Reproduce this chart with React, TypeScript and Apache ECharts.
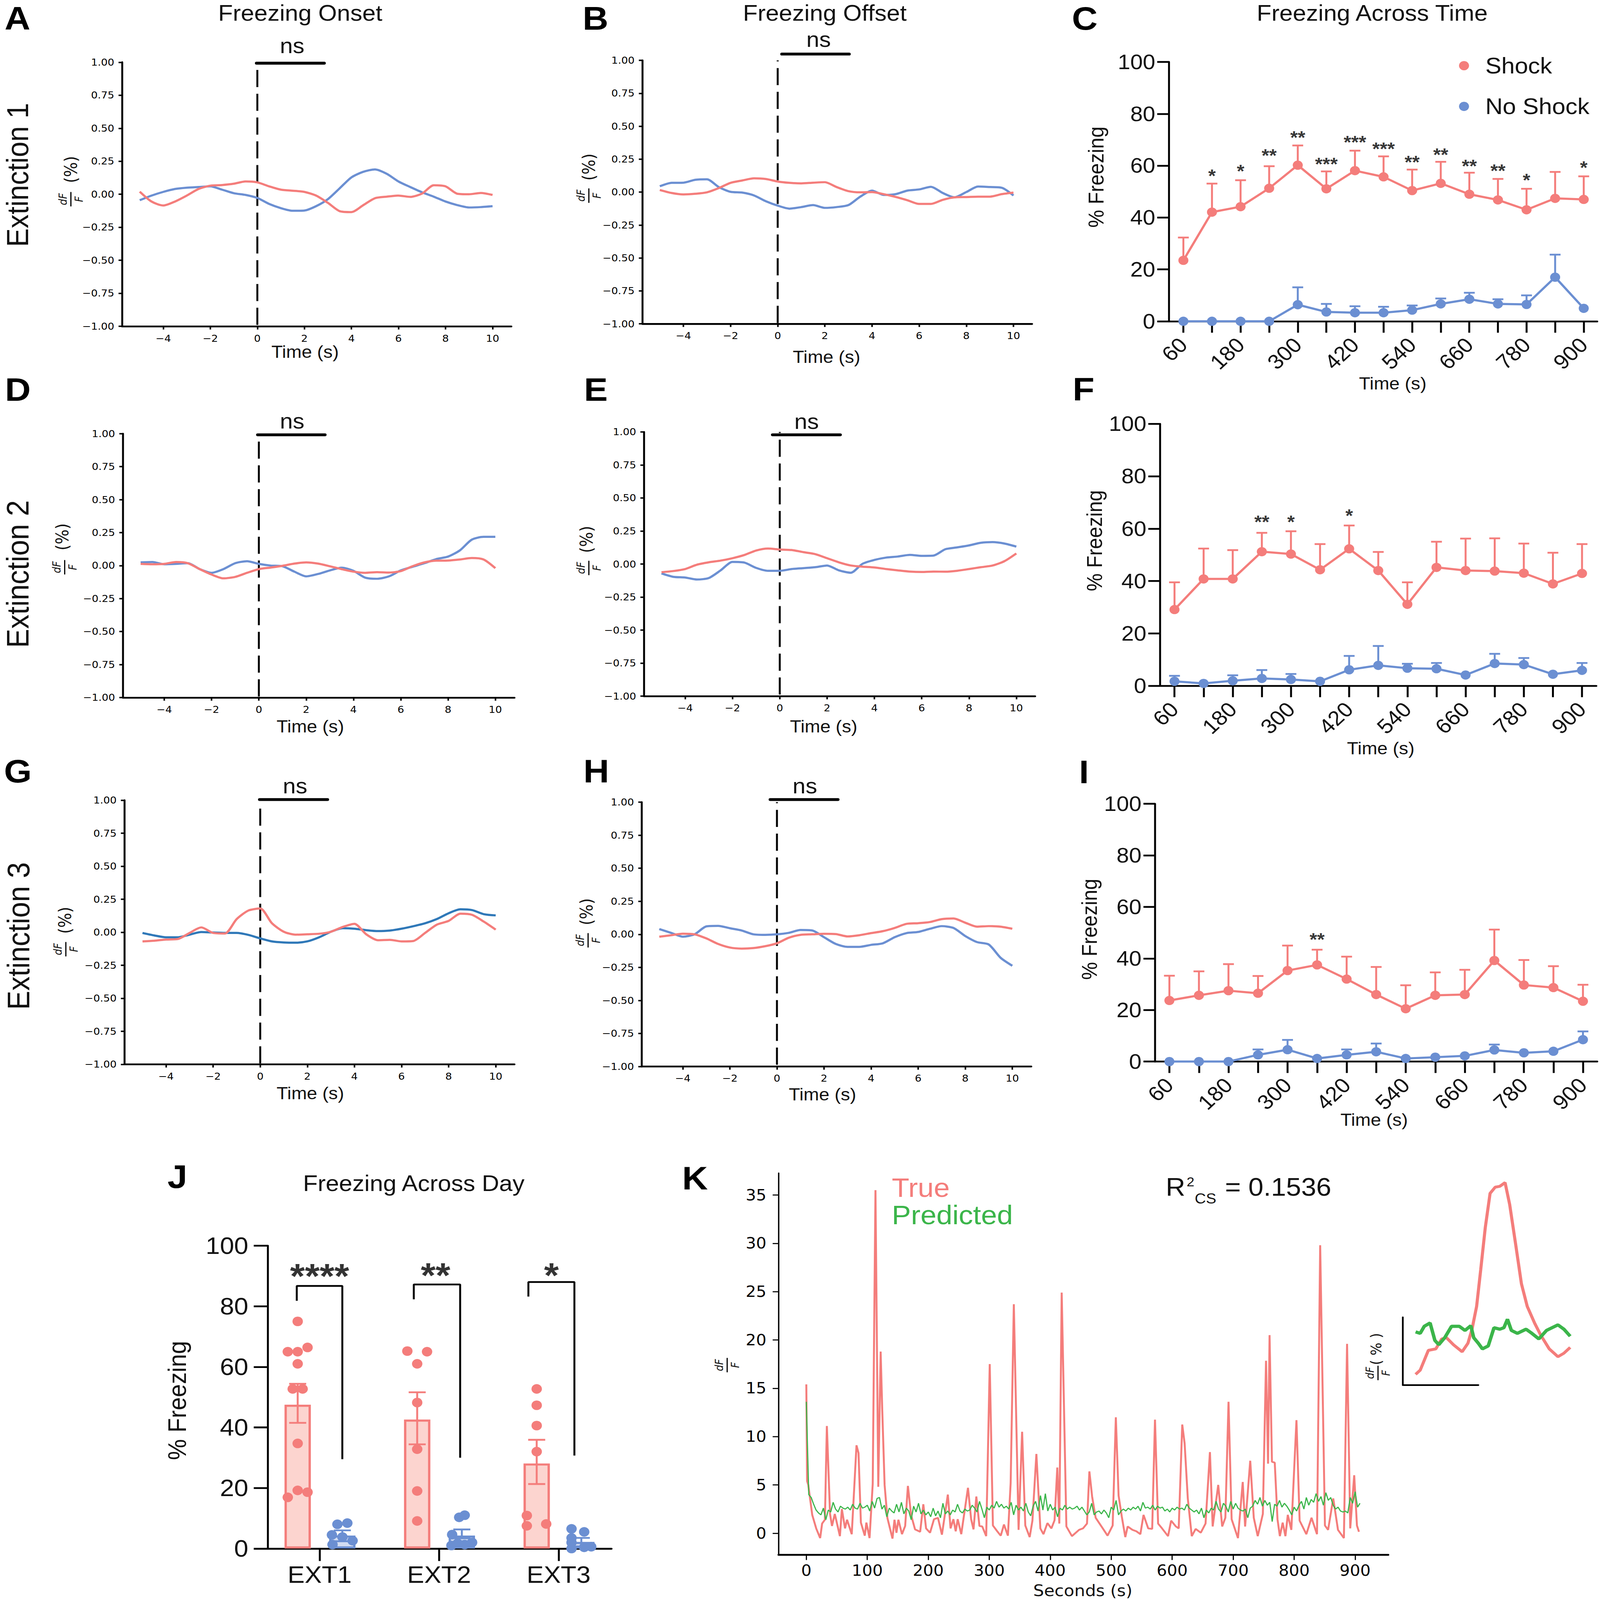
import { useEffect, useRef } from 'react';
import * as echarts from 'echarts';

const SANS = '"Liberation Sans"';
const MPL = '"DejaVu Sans"';
const RED = '#f47d7b';
const BLUE = '#6b8fd2';
const DARK_BLUE = '#2f78b8';
const GREEN = '#3bb54a';
const PAGE_W = 4130;
const PAGE_H = 4482;

const traceSeconds = [-5, -4.5, -4, -3.5, -3, -2.5, -2, -1.5, -1, -0.5, 0, 0.5, 1, 1.5, 2, 2.5, 3, 3.5, 4, 4.5, 5, 5.5, 6, 6.5, 7, 7.5, 8, 8.5, 9, 9.5, 10];
const traceTicksX = [-4, -2, 0, 2, 4, 6, 8, 10];

const onsetShock1 = [0.02, -0.055, -0.085, -0.055, -0.01, 0.04, 0.065, 0.07, 0.08, 0.097, 0.09, 0.06, 0.035, 0.027, 0.018, -0.01, -0.065, -0.128, -0.135, -0.083, -0.03, -0.018, -0.01, -0.02, 0.005, 0.068, 0.06, 0.004, 0, 0.01, -0.005];
const onsetNoShock1 = [-0.045, -0.01, 0.018, 0.04, 0.05, 0.055, 0.06, 0.035, 0.008, -0.005, -0.028, -0.073, -0.105, -0.125, -0.123, -0.09, -0.037, 0.045, 0.128, 0.17, 0.188, 0.155, 0.097, 0.055, 0.015, -0.018, -0.055, -0.082, -0.1, -0.097, -0.09];
const offsetShock1 = [0.016, -0.007, -0.018, -0.013, -0.002, 0.03, 0.07, 0.088, 0.104, 0.099, 0.08, 0.07, 0.066, 0.071, 0.075, 0.038, 0.007, -0.002, 0, -0.016, -0.037, -0.062, -0.09, -0.09, -0.059, -0.04, -0.038, -0.035, -0.035, -0.016, -0.004];
const offsetNoShock1 = [0.044, 0.07, 0.071, 0.093, 0.097, 0.038, 0.002, -0.004, -0.026, -0.07, -0.103, -0.126, -0.114, -0.099, -0.12, -0.114, -0.099, -0.035, 0.011, -0.022, -0.016, 0.011, 0.02, 0.04, -0.007, -0.04, 0, 0.042, 0.038, 0.033, -0.026];
const onsetShock2 = [0.013, 0.01, 0.013, 0.027, 0.018, -0.027, -0.068, -0.097, -0.086, -0.055, -0.027, -0.015, -0.002, 0.015, 0.024, 0.015, -0.005, -0.027, -0.046, -0.055, -0.05, -0.053, -0.042, -0.005, 0.024, 0.037, 0.038, 0.046, 0.057, 0.046, -0.02];
const onsetNoShock2 = [0.024, 0.027, 0.01, 0.013, 0.018, -0.027, -0.055, -0.027, 0.018, 0.033, 0.013, 0, -0.005, -0.046, -0.082, -0.064, -0.037, -0.016, -0.04, -0.092, -0.1, -0.082, -0.037, -0.009, 0.018, 0.049, 0.068, 0.115, 0.196, 0.218, 0.218];
const offsetShock2 = [-0.062, -0.053, -0.038, -0.005, 0.013, 0.026, 0.044, 0.068, 0.102, 0.117, 0.11, 0.106, 0.09, 0.075, 0.044, 0.013, -0.011, -0.02, -0.026, -0.038, -0.048, -0.057, -0.06, -0.057, -0.058, -0.051, -0.038, -0.024, -0.011, 0.022, 0.08];
const offsetNoShock2 = [-0.071, -0.097, -0.102, -0.117, -0.106, -0.048, 0.016, 0.011, -0.029, -0.051, -0.051, -0.038, -0.031, -0.024, -0.011, -0.048, -0.066, 0.002, 0.031, 0.049, 0.057, 0.069, 0.062, 0.064, 0.112, 0.126, 0.141, 0.161, 0.166, 0.155, 0.132];
const onsetShock3 = [-0.069, -0.064, -0.055, -0.051, -0.005, 0.037, -0.005, -0.009, 0.1, 0.165, 0.18, 0.068, 0.004, -0.018, -0.015, -0.011, 0.004, 0.04, 0.064, -0.015, -0.06, -0.057, -0.069, -0.066, -0.005, 0.058, 0.086, 0.141, 0.132, 0.08, 0.02];
const onsetNoShock3 = [-0.005, -0.024, -0.038, -0.038, -0.018, 0.002, -0.002, -0.005, -0.005, -0.02, -0.046, -0.069, -0.077, -0.079, -0.069, -0.038, 0.004, 0.031, 0.027, 0.016, 0.009, 0.013, 0.027, 0.046, 0.068, 0.1, 0.144, 0.174, 0.168, 0.137, 0.128];
const offsetShock3 = [-0.018, -0.007, 0.005, 0, -0.031, -0.073, -0.1, -0.108, -0.104, -0.09, -0.068, -0.026, -0.004, 0, 0.004, 0.002, -0.016, -0.007, 0.009, 0.024, 0.048, 0.079, 0.084, 0.093, 0.115, 0.12, 0.088, 0.058, 0.062, 0.058, 0.042];
const offsetNoShock3 = [0.04, 0.011, -0.018, 0, 0.06, 0.064, 0.046, 0.029, 0, -0.004, 0, 0.011, 0.033, 0.029, -0.022, -0.073, -0.095, -0.095, -0.08, -0.068, -0.022, 0.009, 0.018, 0.042, 0.062, 0.048, -0.013, -0.059, -0.077, -0.177, -0.238];

const binSeconds = [60, 120, 180, 240, 300, 360, 420, 480, 540, 600, 660, 720, 780, 840, 900];
const binLabels = [60, 180, 300, 420, 540, 660, 780, 900];

const shockExt1 = [23.5, 42.1, 44.2, 51.3, 60.2, 51.1, 58.1, 55.7, 50.4, 53.2, 49, 46.8, 43, 47.4, 47];
const shockErrExt1 = [32.3, 53.1, 54.4, 59.8, 67.8, 57.8, 65.8, 63.6, 58.5, 61.5, 57.3, 54.9, 51.1, 57.6, 55.9];
const noShockExt1 = [0, 0, 0, 0, 6.4, 3.6, 3.3, 3.3, 4.3, 6.7, 8.5, 6.7, 6.5, 17, 5];
const noShockErrExt1 = [null, null, null, null, 13.1, 6.7, 5.8, 5.6, 6.1, 8.8, 11, 8.5, 10, 25.7, null];
const starsExt1: [number, number, string][] = [[120, 56.5, '*'], [180, 58.3, '*'], [240, 64.4, '**'], [300, 71.3, '**'], [360, 61, '***'], [420, 69.5, '***'], [480, 66.9, '***'], [540, 61.7, '**'], [600, 64.6, '**'], [660, 60.3, '**'], [720, 58.5, '**'], [780, 54.8, '*'], [900, 59.7, '*']];

const shockExt2 = [29.1, 40.8, 40.8, 51.2, 50.3, 44.3, 52.3, 44, 31.1, 45.2, 44, 43.8, 43, 38.9, 42.9];
const shockErrExt2 = [39.5, 52.4, 51.8, 58.4, 59, 54.1, 61.2, 51.1, 39.5, 55, 56.2, 56.3, 54.3, 50.8, 54.1];
const noShockExt2 = [1.7, 0.9, 1.9, 2.8, 2.4, 1.7, 6.1, 7.8, 6.7, 6.5, 4.1, 8.5, 8.1, 4.4, 5.9];
const noShockErrExt2 = [3.8, null, 4, 6, 4.5, null, 11.4, 15.2, 8.4, 8.7, null, 12.2, 10.6, null, 8.7];
const starsExt2: [number, number, string][] = [[240, 62.9, '**'], [300, 62.9, '*'], [420, 65.3, '*']];

const shockExt3 = [23.7, 25.7, 27.5, 26.5, 35.3, 37.5, 32, 26, 20.5, 25.7, 26, 39.2, 29.7, 28.7, 23.4];
const shockErrExt3 = [33.3, 35, 37.8, 33.2, 45, 43.4, 40.7, 36.7, 29.6, 34.6, 35.6, 51.2, 39.4, 37, 29.8];
const noShockExt3 = [0, 0, 0, 2.6, 4.6, 1.2, 2.6, 3.8, 1.2, 1.7, 2.2, 4.5, 3.4, 4, 8.5];
const noShockErrExt3 = [null, null, null, 4.7, 8.4, null, 4.7, 7, null, null, null, 6.6, null, null, 11.7];
const starsExt3: [number, number, string][] = [[360, 47.8, '**']];

const dayTicks = [1, 2, 3];
const dayLabels = ['EXT1', 'EXT2', 'EXT3'];
const dayShockX = [0.8165, 1.8165, 2.8165];
const dayNoShockX = [1.19, 2.19, 3.19];
const dayShockMean = [47.5, 42.6, 28.1];
const dayShockHigh = [54.4, 51.6, 35.9];
const dayShockLow = [41.5, 34.4, 21.3];
const dayNoShockMean = [4.3, 4.3, 2.2];
const dayNoShockHigh = [6, 6.3, 3.5];
const dayNoShockLow = [2.4, 3.4, 0.7];
const dayShockDots = [[0.8165, 75], [0.7336, 65], [0.8165, 65], [0.899, 66.4], [0.8165, 61], [0.7749, 52.7], [0.8579, 52.7], [0.8165, 34.7], [0.8165, 19.2], [0.7336, 16.9], [0.899, 18.6],
  [1.734, 65.2], [1.899, 65], [1.8165, 61], [1.8165, 48.2], [1.8165, 32.8], [1.8165, 19], [1.8165, 9.1],
  [2.8165, 52.7], [2.8165, 47.3], [2.8165, 40.6], [2.8165, 32], [2.734, 10.9], [2.734, 7.5], [2.896, 8.1]];
const dayNoShockDots = [[1.149, 8], [1.232, 8.4], [1.103, 4.5], [1.191, 3.8], [1.276, 2.6], [1.108, 1.3],
  [2.168, 10.3], [2.214, 11], [2.109, 4.6], [2.103, 1], [2.214, 1.3], [2.276, 2], [2.155, 1.7],
  [3.108, 6.5], [3.214, 5.5], [3.108, 3.5], [3.108, 0], [3.214, 0.4], [3.273, 0.6], [3.108, 2]];
const dayBrackets = [
  [[0.8088, 81.8], [0.8088, 86.7], [1.19, 86.7], [1.19, 29.5]],
  [[1.788, 82.3], [1.788, 87.2], [2.176, 87.2], [2.176, 30]],
  [[2.747, 83.2], [2.747, 88], [3.132, 88], [3.132, 30.7]],
];
const dayStars: [number, number, string][] = [[1, 91.4, '****'], [1.97, 91.6, '**'], [2.94, 91.6, '*']];

const trueSeconds = [0, 1.3, 3.2, 9.7, 16.2, 22.7, 25.9, 30.5, 33.7, 38.9, 42.1, 46.7, 55.1, 58.3, 63.5, 66.8, 74.5, 82.3, 85.6, 89.5, 95.9, 98.5, 103.7, 108.9, 113.4, 118, 121.9, 124.5, 128.4, 132.9, 141.3, 144.6, 147.8, 151, 156.9, 162.1, 166.6, 171.8, 178.3, 186.7, 191.9, 196.4, 202.9, 209.4, 215.9, 222.4, 232.1, 236.6, 241.2, 245, 248.3, 254.1, 265.1, 270.3, 274.2, 278.8, 283.9, 288.5, 295, 300.8, 306, 313.1, 318.9, 324.1, 330.6, 335.1, 340.3, 348.1, 353.9, 359.1, 366.3, 370.8, 377.3, 383.8, 388.9, 395.4, 401.9, 407.1, 411.6, 414.9, 418.8, 426.5, 435.6, 447.3, 453.8, 460.3, 464.2, 468.7, 474.5, 486.2, 494, 502.4, 507.6, 512.1, 517.3, 523.1, 527, 534.8, 541.3, 547.8, 553, 560.7, 567.2, 571.8, 576.9, 583.4, 593.2, 598.3, 606.1, 610.7, 616.5, 620.4, 625.6, 632.1, 638.5, 646.9, 654.7, 661.9, 666.4, 675.5, 682, 687.2, 692.4, 697.5, 707.9, 715.7, 719.6, 728, 733.8, 740.3, 748.7, 753.9, 757.2, 759.7, 763.6, 768.2, 772.7, 776.6, 781.2, 785.7, 789.6, 795.4, 803.8, 809, 820, 828.5, 837.5, 842.7, 850.5, 855.7, 864.1, 871.9, 881.6, 886.8, 892, 898.5, 903, 906.3];
const trueValues = [15.4, 5.4, 5, 1.9, 0.5, -0.5, 1, 1.4, 11.1, 2, 0.75, 2, -0.3, 2.5, 0.5, 1.4, -0.1, 9.1, 8.3, 1.1, -0.25, 1.1, -0.5, 5.1, 35.5, 4.8, 18.8, 12.8, 5, 1.6, -0.55, 1.4, 0.05, 1.4, -0.1, 0.75, 4.9, 1.9, 0.4, 0.15, 3, 0.5, 0.05, 1.45, 1.6, -0.15, 4, 0.5, 1.45, 0.2, 1.45, -0.1, 4.7, 1.45, 0.4, 3.8, 0.75, 0.7, -0.3, 17.5, 0.8, 0.2, -0.25, 0.9, -0.25, 5.2, 23.7, 0.35, 10.5, 0.8, -0.4, 1.3, 8.2, 0.5, -0.1, 1.05, 0.5, 1.35, 6.8, 1, 24.9, 0.7, -0.3, 0.35, 0.5, 1, 6.4, 3.8, 1.6, 0.5, -0.25, 0.8, 12, 3.9, 1.75, -0.4, 0.7, 0.35, 0.2, -0.1, 1.9, 0.5, 0.45, 11.75, 1, 0.5, -0.3, 1.3, 0.7, 0.5, 11.25, 9.3, 3.6, -0.3, 0.45, 0.05, 1, 8.4, 0.7, 5, 0.7, 1.6, 13.6, 1.45, -0.5, 5.3, 0.7, 7.5, 1.6, -0.3, 2, 17.85, 7.2, 20.5, 7.4, 7.3, 1.45, -0.3, 1.1, -0.3, 1.9, 0.35, 11.7, 1.3, -0.1, 1.6, -0.1, 29.8, 0.8, 0.35, 3.6, 0.35, -0.5, 19.6, 0.5, 6, 0.8, 0.15];
const predictedValues = [
  13.6, 4.0, 3.7, 3.0, 2.4, 2.1, 1.9, 2.6, 1.4, 2.4,
  2.2, 3.2, 2.5, 2.2, 2.8, 2.6, 2.5, 2.7, 2.4, 3.0,
  2.6, 2.5, 3.1, 2.6, 2.7, 2.9, 2.3, 3.3, 2.6, 3.6,
  3.7, 2.5, 2.9, 1.7, 2.6, 2.3, 2.1, 3.0, 2.2, 3.2,
  2.0, 2.6, 2.3, 1.4, 2.8, 2.2, 3.1, 2.0, 2.4, 1.9,
  2.2, 1.7, 2.6, 1.8, 2.3, 1.6, 3.1, 2.0, 2.3, 1.9,
  2.4, 2.2, 3.0, 2.3, 2.1, 2.5, 2.3, 2.4, 2.9, 2.6,
  2.2, 3.3, 2.5, 1.6, 2.7, 2.4, 2.9, 2.6, 3.3, 2.7,
  3.0, 2.6, 2.8, 2.5, 3.2, 1.9, 2.9, 2.4, 2.7, 2.3,
  3.1, 2.2, 1.8, 2.8, 3.3, 2.3, 3.9, 2.4, 4.1, 2.3,
  3.0, 2.4, 2.7, 1.7, 2.6, 2.4, 2.9, 2.5, 2.7, 2.5,
  2.6, 2.8, 2.4, 2.7, 2.3, 1.9, 2.2, 3.1, 1.9, 2.2,
  2.3, 2.0, 2.4, 2.1, 1.6, 2.7, 2.4, 3.4, 1.9, 2.3,
  2.5, 2.3, 2.6, 2.4, 2.7, 2.5, 2.8, 2.3, 3.2, 2.6,
  2.7, 2.5, 2.9, 2.4, 2.8, 2.6, 2.7, 2.3, 2.5, 2.2,
  2.6, 2.4, 2.7, 2.5, 2.6, 2.4, 3.0, 2.6, 2.4, 2.2,
  2.4, 2.0, 2.6, 1.6, 2.4, 2.1, 2.6, 2.4, 3.3, 2.5,
  2.2, 3.1, 2.8, 2.2, 3.3, 2.5, 3.1, 2.6, 2.4, 2.3,
  2.5, 1.6, 2.6, 2.8, 3.4, 3.0, 3.7, 2.8, 3.4, 2.9,
  3.2, 1.2, 3.0, 2.8, 3.4, 2.7, 3.1, 2.8, 2.4, 1.9,
  2.7, 2.3, 2.9, 3.3, 2.5, 3.7, 2.9, 3.5, 3.2, 4.1,
  3.3, 3.8, 2.9, 4.2, 3.4, 3.7, 2.9, 2.5, 2.7, 2.3,
  2.2, 2.3, 2.1, 3.7, 3.1, 4.3, 2.7, 3.1,
];
const secondsTicks = [0, 100, 200, 300, 400, 500, 600, 700, 800, 900];
const dffTicks = [0, 5, 10, 15, 20, 25, 30, 35];

const insetTrueX = [7.5, 10.2, 12.6, 15, 19.4, 22.8, 25.6, 29.7, 34.8, 38.2, 40.6, 43.3, 45.7, 48.4, 51.2, 54.2, 56.9, 60, 62.7, 66.2, 69.6, 73, 77.4, 80.8, 85.9, 91, 94.5, 98.2];
const insetTrueY = [5.2, 7.2, 12, 16.8, 17.5, 22.3, 22.9, 19.5, 16.1, 20.2, 27, 38, 55.7, 76.2, 92.6, 95.6, 96, 97.8, 87.2, 68, 48.9, 38, 29.8, 24.3, 17.5, 13.7, 15.4, 18.2];
const insetPredictedX = [7.5, 10.2, 12.6, 16, 18.8, 21.1, 24.6, 28.6, 33.1, 36.5, 39.9, 41.6, 44.3, 46.7, 50.1, 53.5, 56.9, 59.3, 61.4, 63.7, 67.2, 72.3, 75.7, 79.8, 84.3, 91, 94.5, 98.2];
const insetPredictedY = [25.7, 25, 28.4, 30, 21.6, 19.5, 22.9, 28.4, 28.4, 26.4, 28.7, 22.9, 20.2, 17.5, 18.9, 27.7, 27, 27.7, 31.8, 26.4, 25, 27, 25, 22.3, 26.4, 29.1, 27, 23.6];

const zip = (xs: number[], ys: (number | null)[]) => xs.map((x, i) => [x, ys[i]]);

const tracePanels = [
  { name: 'A', L: 315, T: 174.4, B: 914, R: 1320, xm4: 421.4, x10: 1271.4, shock: onsetShock1, noShock: onsetNoShock1, blue: BLUE, bar: [662, 837, 177], ns: [754, 128], time: [787.5, 986], dashTop: 196, dot: false, pct: [183, 475], frac: [183, 558], letter: [45, 52] },
  { name: 'B', L: 1658, T: 169, B: 907, R: 2664, xm4: 1764, x10: 2616, shock: offsetShock1, noShock: offsetNoShock1, blue: BLUE, bar: [2018, 2192, 151.5], ns: [2113, 110], time: [2133.5, 1000.7], dashTop: 169, dot: true, pct: [1520, 468], frac: [1520, 548], letter: [1537, 52] },
  { name: 'D', L: 317, T: 1214.8, B: 1953.8, R: 1328, xm4: 424, x10: 1278.6, shock: onsetShock2, noShock: onsetNoShock2, blue: BLUE, bar: [665, 839, 1218], ns: [754, 1179], time: [801, 2035.7], dashTop: 1237, dot: false, pct: [161, 1504], frac: [167, 1589], letter: [46, 1091] },
  { name: 'E', L: 1662, T: 1210, B: 1950, R: 2672, xm4: 1768.5, x10: 2623.4, shock: offsetShock2, noShock: offsetNoShock2, blue: BLUE, bar: [1994, 2169, 1218], ns: [2082, 1180], time: [2126, 2035.7], dashTop: 1210, dot: true, pct: [1514.5, 1511], frac: [1520, 1591], letter: [1538, 1091] },
  { name: 'G', L: 321, T: 2241.7, B: 2981.4, R: 1328, xm4: 428.6, x10: 1279.5, shock: onsetShock3, noShock: onsetNoShock3, blue: DARK_BLUE, bar: [670, 845.5, 2239.7], ns: [761.6, 2201], time: [801, 3063], dashTop: 2265, dot: false, pct: [168, 2578], frac: [170, 2659], letter: [46, 2160.6] },
  { name: 'H', L: 1656.6, T: 2247, B: 2987.5, R: 2662, xm4: 1762.5, x10: 2613, shock: offsetShock3, noShock: offsetNoShock3, blue: BLUE, bar: [1988, 2163, 2239.7], ns: [2077.6, 2201], time: [2123, 3066.6], dashTop: 2247, dot: true, pct: [1514.5, 2554], frac: [1518, 2634], letter: [1539, 2160.6] },
];

const timePanels = [
  { name: 'C', L: 3017, T: 173.6, B: 900, R: 4123, x60: 3054.6, x900: 4088, shock: shockExt1, shockErr: shockErrExt1, noShock: noShockExt1, noShockErr: noShockErrExt1, stars: starsExt1, ylabel: [2829, 496], time: [3595, 1075], letter: [2800, 52] },
  { name: 'F', L: 2994, T: 1187.4, B: 1921, R: 4120.6, x60: 3031.7, x900: 4083.6, shock: shockExt2, shockErr: shockErrExt2, noShock: noShockExt2, noShockErr: noShockErrExt2, stars: starsExt2, ylabel: [2825, 1514.5], time: [3564, 2096.5], letter: [2797, 1090] },
  { name: 'I', L: 2981.5, T: 2251.6, B: 2973.7, R: 4123, x60: 3018.5, x900: 4086, shock: shockExt3, shockErr: shockErrExt3, noShock: noShockExt3, noShockErr: noShockErrExt3, stars: starsExt3, ylabel: [2811.6, 2603], time: [3547, 3137], letter: [2798, 2162] },
];

function text(str: string, x: number, y: number, fontSize: number, extra: any = {}) {
  const { rotation, align, fill, fontFamily, fontWeight, fontStyle } = extra;
  return {
    type: 'text', x, y, rotation: rotation || 0, silent: true,
    style: {
      text: str, fontSize, fontFamily: fontFamily || SANS, fontWeight: fontWeight || 'normal', fontStyle: fontStyle || 'normal',
      fill: fill || '#111', align: align || 'center', verticalAlign: 'middle',
    },
  };
}

function line(x1: number, y1: number, x2: number, y2: number, lineWidth: number, stroke = '#000') {
  return { type: 'line', silent: true, shape: { x1, y1, x2, y2 }, style: { stroke, lineWidth, lineCap: 'round' } };
}

const UP = Math.PI / 2;

function fraction(x: number, y: number) {
  return [
    text('dF', x - 21, y, 28, { rotation: UP, fontStyle: 'italic', fontFamily: MPL }),
    text('F', x + 21, y, 28, { rotation: UP, fontStyle: 'italic', fontFamily: MPL }),
    line(x, y - 19, x, y + 19, 3),
  ];
}

function errorSeries(rows: any[], color: string, gridIndex: number, capPx: number, lineWidth: number, z: number) {
  return {
    type: 'custom', xAxisIndex: gridIndex, yAxisIndex: gridIndex, z, silent: true, clip: false,
    data: rows,
    encode: { x: 0, y: 1 },
    renderItem: (_p: any, api: any) => {
      const x = api.value(0);
      const hi = api.coord([x, api.value(1)]);
      const lo = api.coord([x, api.value(2)]);
      const lineStyle = { stroke: color, lineWidth };
      const children: any[] = [
        { type: 'line', shape: { x1: hi[0], y1: hi[1], x2: lo[0], y2: lo[1] }, style: lineStyle },
        { type: 'line', shape: { x1: hi[0] - capPx / 2, y1: hi[1], x2: hi[0] + capPx / 2, y2: hi[1] }, style: lineStyle },
      ];
      if (api.value(3)) {
        children.push({ type: 'line', shape: { x1: lo[0] - capPx / 2, y1: lo[1], x2: lo[0] + capPx / 2, y2: lo[1] }, style: lineStyle });
      }
      return { type: 'group', children };
    },
  };
}

function starSeries(stars: [number, number, string][], gridIndex: number, fontSize: number, dy: number) {
  return {
    type: 'scatter', xAxisIndex: gridIndex, yAxisIndex: gridIndex, symbolSize: 1, z: 6, silent: true,
    itemStyle: { color: 'transparent' },
    data: stars.map((s) => ({ value: s })),
    label: {
      show: true, position: 'inside', offset: [0, dy], color: '#000', fontSize, fontWeight: 'bold', fontFamily: SANS,
      formatter: (p: any) => p.value[2],
    },
  };
}

function buildOption() {
  const grids: any[] = [];
  const xAxes: any[] = [];
  const yAxes: any[] = [];
  const series: any[] = [];
  const graphic: any[] = [];

  const labelMpl = { fontFamily: MPL, color: '#000', fontSize: 27 };

  tracePanels.forEach((p) => {
    const idx = grids.length;
    const unit = (p.x10 - p.xm4) / 14;
    grids.push({ left: p.L, top: p.T, width: p.R - p.L, height: p.B - p.T });
    xAxes.push({
      type: 'value', gridIndex: idx, min: -4 - (p.xm4 - p.L) / unit, max: 10 + (p.R - p.x10) / unit,
      splitLine: { show: false },
      axisLine: { onZero: false, lineStyle: { color: '#000', width: 5 } },
      axisTick: { customValues: traceTicksX, length: 9, lineStyle: { color: '#000', width: 4 } },
      axisLabel: { ...labelMpl, customValues: traceTicksX, margin: 20, formatter: (v: number) => String(v).replace('-', '\u2212') },
    });
    yAxes.push({
      type: 'value', gridIndex: idx, min: -1, max: 1, interval: 0.25,
      splitLine: { show: false },
      axisLine: { onZero: false, lineStyle: { color: '#000', width: 5 } },
      axisTick: { length: 9, lineStyle: { color: '#000', width: 4 } },
      axisLabel: { ...labelMpl, margin: 20, formatter: (v: number) => v.toFixed(2).replace('-', '\u2212') },
    });
    const dashFrom = 1 - ((p.dashTop - p.T) / (p.B - p.T)) * 2;
    series.push({
      type: 'line', xAxisIndex: idx, yAxisIndex: idx, showSymbol: false, silent: true, z: 1,
      data: [[0, dashFrom], [0, -1]],
      lineStyle: { color: '#000', width: 5, type: [48, 18.6], dashOffset: p.dot ? 45 : 0, cap: 'butt' },
    });
    series.push({
      name: 'Shock', type: 'line', xAxisIndex: idx, yAxisIndex: idx, showSymbol: false, silent: true, z: 3, smooth: 0.25,
      data: zip(traceSeconds, p.shock), lineStyle: { color: RED, width: 6 }, itemStyle: { color: RED },
    });
    series.push({
      name: 'No Shock', type: 'line', xAxisIndex: idx, yAxisIndex: idx, showSymbol: false, silent: true, z: 2, smooth: 0.25,
      data: zip(traceSeconds, p.noShock), lineStyle: { color: p.blue, width: 6 }, itemStyle: { color: p.blue },
    });
    graphic.push(line(p.bar[0], p.bar[2], p.bar[1], p.bar[2], 8));
    graphic.push(text('ns', p.ns[0], p.ns[1], 60));
    graphic.push(text('Time (s)', p.time[0], p.time[1], 48));
    graphic.push(text('(%)', p.pct[0], p.pct[1], 44, { rotation: UP, fontFamily: MPL }));
    graphic.push(...fraction(p.frac[0], p.frac[1]));
    graphic.push(text(p.name, p.letter[0], p.letter[1], 92, { fontWeight: 'bold', fill: '#000' }));
  });

  timePanels.forEach((p) => {
    const idx = grids.length;
    const unit = (p.x900 - p.x60) / 840;
    grids.push({ left: p.L, top: p.T, width: p.R - p.L, height: p.B - p.T });
    xAxes.push({
      type: 'value', gridIndex: idx, min: 60 - (p.x60 - p.L) / unit, max: 900 + (p.R - p.x900) / unit,
      splitLine: { show: false },
      axisLine: { onZero: false, lineStyle: { color: '#000', width: 5 } },
      axisTick: { customValues: binSeconds, length: 32, lineStyle: { color: '#000', width: 5 } },
      axisLabel: { customValues: binLabels, rotate: 45, margin: 56, fontSize: 58, color: '#111', fontFamily: SANS },
    });
    yAxes.push({
      type: 'value', gridIndex: idx, min: 0, max: 100, interval: 20,
      splitLine: { show: false },
      axisLine: { onZero: false, lineStyle: { color: '#000', width: 5 } },
      axisTick: { length: 30, lineStyle: { color: '#000', width: 5 } },
      axisLabel: { margin: 35, fontSize: 58, color: '#111', fontFamily: SANS },
    });
    const errRows = (tops: (number | null)[], means: number[]) =>
      binSeconds.map((t, i) => [t, tops[i], means[i], 0]).filter((r) => r[1] !== null);
    series.push(errorSeries(errRows(p.shockErr, p.shock), RED, idx, 28, 5, 3));
    series.push(errorSeries(errRows(p.noShockErr, p.noShock), BLUE, idx, 28, 5, 3));
    series.push({
      name: 'Shock', type: 'line', xAxisIndex: idx, yAxisIndex: idx, symbol: 'circle', symbolSize: 26, clip: false, silent: true, z: 4,
      data: zip(binSeconds, p.shock), lineStyle: { color: RED, width: 6 }, itemStyle: { color: RED },
    });
    series.push({
      name: 'No Shock', type: 'line', xAxisIndex: idx, yAxisIndex: idx, symbol: 'circle', symbolSize: 26, clip: false, silent: true, z: 4,
      data: zip(binSeconds, p.noShock), lineStyle: { color: BLUE, width: 6 }, itemStyle: { color: BLUE },
    });
    series.push(starSeries(p.stars, idx, 50, 3));
    graphic.push(text('% Freezing', p.ylabel[0], p.ylabel[1], 56, { rotation: UP }));
    graphic.push(text('Time (s)', p.time[0], p.time[1], 48));
    graphic.push(text(p.name, p.letter[0], p.letter[1], 92, { fontWeight: 'bold', fill: '#000' }));
  });

  // J
  const dayIdx = grids.length;
  grids.push({ left: 691, top: 3489.5, width: 887.6, height: 848.3 });
  xAxes.push({
    type: 'value', gridIndex: dayIdx, min: 0.5656, max: 3.443,
    splitLine: { show: false },
    axisLine: { onZero: false, lineStyle: { color: '#000', width: 5 } },
    axisTick: { customValues: dayTicks, length: 35, lineStyle: { color: '#000', width: 5 } },
    axisLabel: { customValues: dayTicks, margin: 40, fontSize: 66, color: '#111', fontFamily: SANS, formatter: (v: number) => dayLabels[v - 1] },
  });
  yAxes.push({
    type: 'value', gridIndex: dayIdx, min: 0, max: 100, interval: 20,
    splitLine: { show: false },
    axisLine: { onZero: false, lineStyle: { color: '#000', width: 5 } },
    axisTick: { length: 36, lineStyle: { color: '#000', width: 5 } },
    axisLabel: { margin: 50, fontSize: 66, color: '#111', fontFamily: SANS },
  });
  series.push({
    type: 'bar', xAxisIndex: dayIdx, yAxisIndex: dayIdx, barWidth: 68, barGap: '-100%', silent: true, z: 2,
    data: zip(dayShockX, dayShockMean), itemStyle: { color: '#fcd4cf', borderColor: RED, borderWidth: 6 },
  });
  series.push({
    type: 'bar', xAxisIndex: dayIdx, yAxisIndex: dayIdx, barWidth: 68, barGap: '-100%', silent: true, z: 2,
    data: zip(dayNoShockX, dayNoShockMean), itemStyle: { color: '#d3ddf2', borderColor: BLUE, borderWidth: 6 },
  });
  series.push(errorSeries(dayShockX.map((x, i) => [x, dayShockHigh[i], dayShockLow[i], 1]), RED, dayIdx, 44, 5, 4));
  series.push(errorSeries(dayNoShockX.map((x, i) => [x, dayNoShockHigh[i], dayNoShockLow[i], 1]), BLUE, dayIdx, 44, 5, 4));
  series.push({ type: 'scatter', xAxisIndex: dayIdx, yAxisIndex: dayIdx, symbolSize: 27, clip: false, silent: true, z: 5, data: dayShockDots, itemStyle: { color: RED, opacity: 1 } });
  series.push({ type: 'scatter', xAxisIndex: dayIdx, yAxisIndex: dayIdx, symbolSize: 27, clip: false, silent: true, z: 5, data: dayNoShockDots, itemStyle: { color: BLUE, opacity: 1 } });
  dayBrackets.forEach((b) => {
    series.push({ type: 'line', xAxisIndex: dayIdx, yAxisIndex: dayIdx, showSymbol: false, silent: true, z: 6, data: b, lineStyle: { color: '#000', width: 5 } });
  });
  series.push(starSeries(dayStars, dayIdx, 98, 11));
  graphic.push(text('% Freezing', 457, 3923, 66, { rotation: UP }));
  graphic.push(text('J', 458, 3296, 92, { fontWeight: 'bold', fill: '#000' }));

  // K
  const kIdx = grids.length;
  grids.push({ left: 2009.4, top: 3286, width: 1574.2, height: 1069 });
  const kUnitX = 1.574;
  xAxes.push({
    type: 'value', gridIndex: kIdx, min: -(2081.3 - 2009.4) / kUnitX, max: (3583.6 - 2081.3) / kUnitX,
    splitLine: { show: false },
    axisLine: { onZero: false, lineStyle: { color: '#000', width: 5 } },
    axisTick: { customValues: secondsTicks, length: 15, lineStyle: { color: '#000', width: 3 } },
    axisLabel: { customValues: secondsTicks, margin: 24, fontSize: 42, color: '#000', fontFamily: MPL },
  });
  yAxes.push({
    type: 'value', gridIndex: kIdx, min: -2.217, max: 37.27,
    splitLine: { show: false },
    axisLine: { onZero: false, lineStyle: { color: '#000', width: 3.5 } },
    axisTick: { customValues: dffTicks, length: 15, lineStyle: { color: '#000', width: 3 } },
    axisLabel: { customValues: dffTicks, margin: 31, fontSize: 42, color: '#000', fontFamily: MPL },
  });
  series.push({
    type: 'line', xAxisIndex: kIdx, yAxisIndex: kIdx, showSymbol: false, silent: true, z: 2,
    data: zip(trueSeconds, trueValues), lineStyle: { color: RED, width: 5 },
  });
  series.push({
    type: 'line', xAxisIndex: kIdx, yAxisIndex: kIdx, showSymbol: false, silent: true, z: 3,
    data: predictedValues.map((v, i) => [i * 4, v]), lineStyle: { color: GREEN, width: 3 },
  });

  // K inset
  const insetIdx = grids.length;
  grids.push({ left: 3621, top: 3300, width: 440, height: 580 });
  xAxes.push({ type: 'value', gridIndex: insetIdx, min: 0, max: 100, show: false });
  yAxes.push({ type: 'value', gridIndex: insetIdx, min: 0, max: 100, show: false });
  series.push({
    type: 'line', xAxisIndex: insetIdx, yAxisIndex: insetIdx, showSymbol: false, silent: true, z: 2,
    data: zip(insetTrueX, insetTrueY), lineStyle: { color: RED, width: 8 },
  });
  series.push({
    type: 'line', xAxisIndex: insetIdx, yAxisIndex: insetIdx, showSymbol: false, silent: true, z: 3,
    data: zip(insetPredictedX, insetPredictedY), lineStyle: { color: GREEN, width: 9 },
  });
  graphic.push(line(3621, 3690, 3621, 3880, 4.5));
  graphic.push(line(3621, 3880, 3816, 3880, 4.5));
  graphic.push(text('( % )', 3552, 3779, 38, { rotation: UP, fontFamily: MPL }));
  graphic.push(...fraction(3557, 3846));

  graphic.push(...fraction(1877, 3824));
  graphic.push(text('K', 1794, 3300, 92, { fontWeight: 'bold', fill: '#000' }));
  graphic.push(text('Seconds (s)', 2795, 4456, 44, { fontFamily: MPL }));
  graphic.push(text('True', 2302, 3327, 74, { align: 'left', fill: RED }));
  graphic.push(text('Predicted', 2302, 3404, 74, { align: 'left', fill: GREEN }));
  graphic.push(text('R', 3009, 3325, 70, { align: 'left' }));
  graphic.push(text('2', 3063, 3311, 36, { align: 'left' }));
  graphic.push(text('CS', 3084, 3357, 40, { align: 'left' }));
  graphic.push(text('= 0.1536', 3162, 3325, 70, { align: 'left' }));

  // row headings and column titles
  graphic.push(text('Freezing Onset', 775, 36, 62));
  graphic.push(text('Freezing Offset', 2129, 36, 62));
  graphic.push(text('Freezing Across Time', 3542, 36, 62));
  graphic.push(text('Freezing Across Day', 1068, 3315, 62));
  graphic.push(text('Extinction 1', 46, 490, 78, { rotation: UP }));
  graphic.push(text('Extinction 2', 46, 1608, 80, { rotation: UP }));
  graphic.push(text('Extinction 3', 48, 2622, 80, { rotation: UP }));

  return {
    animation: false,
    backgroundColor: '#fff',
    grid: grids,
    xAxis: xAxes,
    yAxis: yAxes,
    series,
    graphic,
    legend: {
      data: ['Shock', 'No Shock'], orient: 'vertical', left: 3761, top: 148, icon: 'circle', itemWidth: 26, itemHeight: 26, itemGap: 52,
      selectedMode: false, textStyle: { fontSize: 62, color: '#111', fontFamily: SANS, padding: [0, 0, 0, 37] },
    },
  };
}

export default function App() {
  const ref = useRef<HTMLDivElement>(null);

  useEffect(() => {
    if (ref.current) {
      // the browser can hand out a smaller window than the page size, fit the layout into it
      const sx = Math.min(1, window.innerWidth / PAGE_W);
      const sy = Math.min(1, window.innerHeight / PAGE_H);
      ref.current.style.transform = `scale(${sx}, ${sy})`;
      const chart = echarts.init(ref.current, null, { renderer: 'svg' });
      chart.setOption(buildOption());
      return () => {
        chart.dispose();
      };
    }
  }, []);

  return <div ref={ref} style={{ position: 'absolute', left: 0, top: 0, width: PAGE_W, height: PAGE_H, transformOrigin: '0 0' }} />;
}
